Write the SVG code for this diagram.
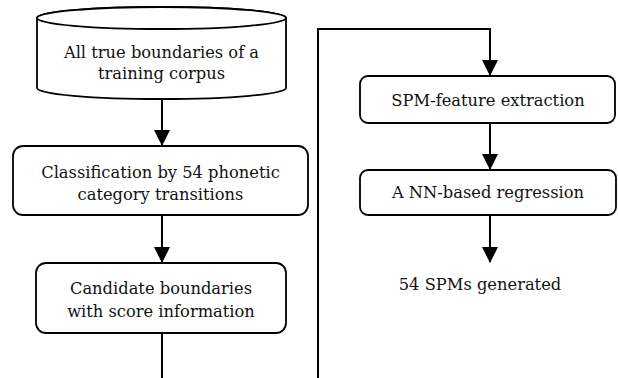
<svg xmlns="http://www.w3.org/2000/svg" width="618" height="378" viewBox="0 0 618 378">
<defs>
<style>
.box{fill:#fff;stroke:#000;stroke-width:1.8}
.ln{fill:none;stroke:#000;stroke-width:2}
text{font-family:'DejaVu Serif',serif;font-size:16.3px;fill:#111;text-anchor:middle}
</style>
<marker id="ah" viewBox="0 0 16 16" refX="15" refY="8" markerWidth="16" markerHeight="16" markerUnits="userSpaceOnUse" orient="auto">
<path d="M0,0 L16,8 L0,16 Z" fill="#000"/>
</marker>
</defs>
<rect width="618" height="378" fill="#fff"/>
<g id="connectors">
<line class="ln" x1="162" y1="99" x2="162" y2="145" marker-end="url(#ah)"/>
<line class="ln" x1="162" y1="215" x2="162" y2="262" marker-end="url(#ah)"/>
<line class="ln" x1="162" y1="333" x2="162" y2="378"/>
<polyline class="ln" points="318,378 318,29 490,29 490,75" marker-end="url(#ah)"/>
<line class="ln" x1="490" y1="123" x2="490" y2="169" marker-end="url(#ah)"/>
<line class="ln" x1="490" y1="215" x2="490" y2="262" marker-end="url(#ah)"/>
</g>
<g id="corpus">
<path class="box" d="M37,18 L37,88 A124.5,11 0 0 0 286,88 L286,18 A124.5,11 0 0 0 37,18 Z"/>
<ellipse class="box" cx="161.5" cy="18" rx="124.5" ry="11" fill="none"/>
<text x="161.5" y="58">All true boundaries of a</text>
<text x="161.5" y="79">training corpus</text>
</g>
<g id="classification">
<rect class="box" x="13" y="146" width="295" height="69" rx="10"/>
<text x="160.5" y="178">Classification by 54 phonetic</text>
<text x="160.5" y="200">category transitions</text>
</g>
<g id="candidate">
<rect class="box" x="36" y="263" width="250" height="70" rx="10"/>
<text x="161" y="294">Candidate boundaries</text>
<text x="161" y="317">with score information</text>
</g>
<g id="spm-feature">
<rect class="box" x="360" y="76" width="255" height="47" rx="8"/>
<text x="488" y="106">SPM-feature extraction</text>
</g>
<g id="regression">
<rect class="box" x="360" y="170" width="256" height="45" rx="8"/>
<text x="488" y="198">A NN-based regression</text>
</g>
<g id="output">
<text x="480" y="290">54 SPMs generated</text>
</g>
</svg>
